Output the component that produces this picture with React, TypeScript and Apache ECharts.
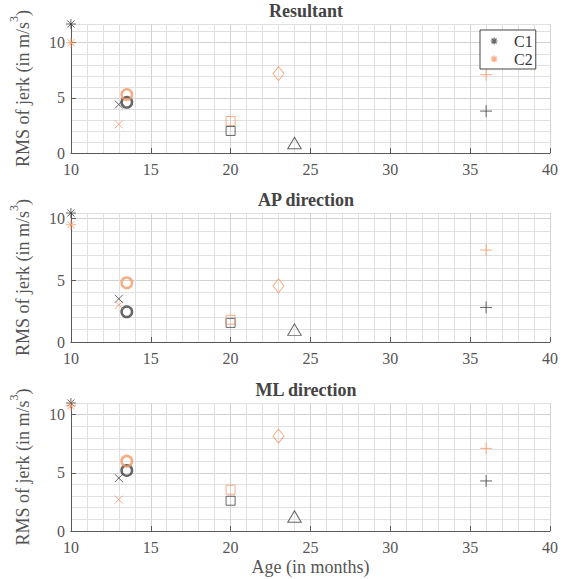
import React, { useEffect, useRef } from "react";
import * as echarts from "echarts";

// ---- data ----
const ages = [10, 13, 13.5, 20, 23, 24, 36];
const markerShapes = ["asterisk", "cross", "circle", "square", "diamond", "triangle", "plus"];
const panelTitles = ["Resultant", "AP direction", "ML direction"];
const resultantC1 = [11.7, 4.4, 4.6, 2.0, null, 0.9, 3.8];
const resultantC2 = [10.0, 2.6, 5.3, 2.9, 7.2, null, 7.1];
const apC1 = [10.45, 3.5, 2.45, 1.55, null, 1.0, 2.8];
const apC2 = [9.5, 3.0, 4.8, 1.8, 4.55, null, 7.45];
const mlC1 = [11.0, 4.55, 5.2, 2.6, null, 1.25, 4.3];
const mlC2 = [10.75, 2.7, 6.0, 3.55, 8.15, null, 7.1];
const groupNames = ["C1", "C2"];
const xTickValues = [10, 15, 20, 25, 30, 35, 40];
const yTickValues = [0, 5, 10];
const xMin = 10;
const xMax = 40;

// ---- style ----
const FONT = "Liberation Serif";
const colors = ["#404040", "#f59868"];
const axisColor = "#5a5a5a";
const textColor = "#555555";
const majorGrid = "#d2d2d2";
const minorGrid = "#e0e0e0";
const gridColors = [majorGrid, minorGrid, minorGrid, minorGrid, minorGrid];

const ASTERISK = "path://M0,-1L0,1M-1,0L1,0M-0.71,-0.71L0.71,0.71M-0.71,0.71L0.71,-0.71";
const CROSS = "path://M-1,-1L1,1M-1,1L1,-1";
const PLUS = "path://M0,-1L0,1M-1,0L1,0";

const markerStyles: Record<string, { symbol: string; size: any; width: number }> = {
  asterisk: { symbol: ASTERISK, size: 10, width: 1 },
  cross: { symbol: CROSS, size: 8, width: 1 },
  circle: { symbol: "circle", size: 10.5, width: 2.5 },
  square: { symbol: "rect", size: 9, width: 1 },
  diamond: { symbol: "diamond", size: [11, 14], width: 1 },
  triangle: { symbol: "triangle", size: [13.5, 11.5], width: 1 },
  plus: { symbol: PLUS, size: 12, width: 1 },
};

const gridTops = [24, 213, 403];
const gridHeights = [129, 129, 128];
const titleTops = [2, 191, 381];

export default function App() {
  const ref = useRef<HTMLDivElement>(null);
  useEffect(() => {
    if (!ref.current) return;
    const chart = echarts.init(ref.current, undefined, { renderer: "svg" });
    const panelData = [
      [resultantC1, resultantC2],
      [apC1, apC2],
      [mlC1, mlC2],
    ];
    const panelMax = panelData.map((groups) =>
      Math.max(...(groups.flat().filter((v) => v != null) as number[]))
    );
    const series: any[] = [];
    panelData.forEach((groups, p) => {
      groups.forEach((vals, g) => {
        const data: any[] = [];
        ages.forEach((a, k) => {
          const v = vals[k];
          if (v == null) return;
          const m = markerStyles[markerShapes[k]];
          data.push({
            value: [a, v],
            symbol: m.symbol,
            symbolSize: m.size,
            itemStyle: { color: "transparent", borderColor: colors[g], borderWidth: m.width },
          });
        });
        series.push({
          type: "scatter",
          name: groupNames[g],
          xAxisIndex: p * 2 + 1,
          yAxisIndex: p * 2 + 1,
          clip: false,
          silent: true,
          data,
        });
      });
    });

    const xAxis: any[] = [];
    const yAxis: any[] = [];
    panelTitles.forEach((_, i) => {
      // grid-only axes
      xAxis.push({
        gridIndex: i,
        type: "value",
        min: xMin,
        max: xMax,
        interval: 1,
        axisLine: { show: false },
        axisTick: { show: false },
        axisLabel: { show: false },
        splitLine: { show: true, lineStyle: { color: gridColors, width: 1 } },
      });
      xAxis.push({
        gridIndex: i,
        type: "value",
        position: "bottom",
        min: xMin,
        max: xMax,
        interval: 5,
        name: i === 2 ? "Age (in months)" : "",
        nameLocation: "middle",
        nameGap: 27,
        nameTextStyle: { fontFamily: FONT, fontSize: 18, color: textColor },
        axisLine: { show: true, onZero: false, lineStyle: { color: axisColor, width: 1 } },
        axisTick: { show: true, inside: true, length: 5, customValues: xTickValues, lineStyle: { color: axisColor } },
        axisLabel: { customValues: xTickValues, fontFamily: FONT, fontSize: 16, color: textColor, margin: 8 },
        splitLine: { show: false },
      });
      yAxis.push({
        gridIndex: i,
        type: "value",
        min: 0,
        max: panelMax[i],
        interval: 1,
        axisLine: { show: false },
        axisTick: { show: false },
        axisLabel: { show: false },
        splitLine: { show: true, lineStyle: { color: gridColors, width: 1 } },
      });
      yAxis.push({
        gridIndex: i,
        type: "value",
        position: "left",
        min: 0,
        max: panelMax[i],
        interval: 1,
        name: "RMS of jerk (in m/s{sup|3})",
        nameLocation: "middle",
        nameGap: 21,
        nameTextStyle: {
          fontFamily: FONT,
          fontSize: 18,
          color: textColor,
          lineHeight: 30,
          rich: { sup: { fontFamily: FONT, fontSize: 12, color: textColor, verticalAlign: "top" } },
        },
        axisLine: { show: true, onZero: false, lineStyle: { color: axisColor, width: 1 } },
        axisTick: { show: true, inside: true, length: 5, customValues: yTickValues, lineStyle: { color: axisColor } },
        axisLabel: { customValues: yTickValues, fontFamily: FONT, fontSize: 16, color: textColor, margin: 6 },
        splitLine: { show: false },
      });
    });

    const option: any = {
      animation: false,
      backgroundColor: "#ffffff",
      title: panelTitles.map((t, i) => ({
        text: t,
        left: 306,
        top: titleTops[i],
        textAlign: "center",
        padding: 0,
        textStyle: { fontFamily: FONT, fontSize: 18, fontWeight: "bold", color: "#444444" },
      })),
      legend: {
        orient: "vertical",
        left: 480,
        top: 30,
        padding: [3, 3, 2, 10],
        itemGap: 2,
        itemWidth: 20,
        itemHeight: 7,
        borderColor: "#444444",
        borderWidth: 1,
        borderRadius: 0,
        backgroundColor: "#ffffff",
        selectedMode: false,
        textStyle: { fontFamily: FONT, fontSize: 16, color: "#333333", padding: [0, 0, 0, 5] },
        data: groupNames.map((n, g) => ({
          name: n,
          icon: ASTERISK,
          itemStyle: { color: "transparent", borderColor: colors[g], borderWidth: 1.2 },
        })),
      },
      grid: panelTitles.map((_, i) => ({
        left: 62,
        right: 17,
        top: gridTops[i],
        height: gridHeights[i],
      })),
      xAxis,
      yAxis,
      series,
    };
    chart.setOption(option);
    return () => chart.dispose();
  }, []);
  return <div ref={ref} style={{ position: "fixed", left: 0, top: 0, width: 567, height: 579 }} />;
}
